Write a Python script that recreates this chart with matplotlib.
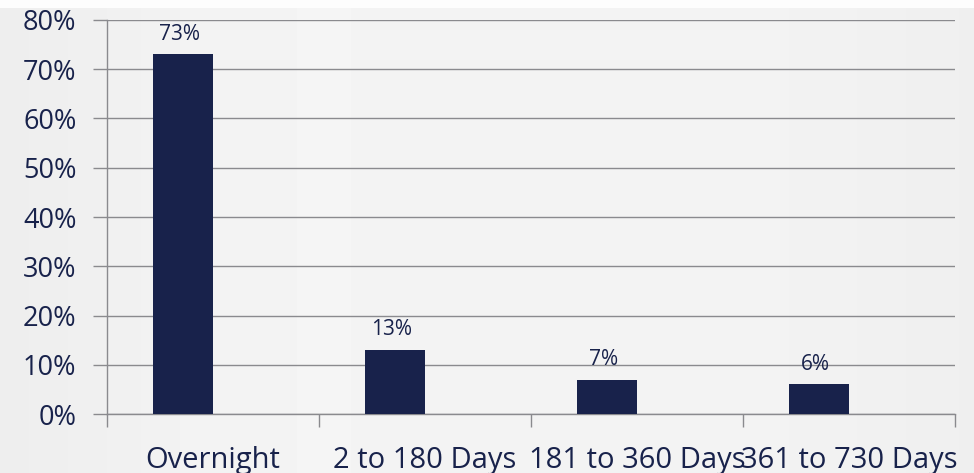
import matplotlib
matplotlib.use("Agg")
import matplotlib.pyplot as plt
import numpy as np
from matplotlib.ticker import FuncFormatter, FixedLocator

categories = ["Overnight", "2 to 180 Days", "181 to 360 Days", "361 to 730 Days"]
values = [73, 13, 7, 6]
labels = ["73%", "13%", "7%", "6%"]

navy = "#18224b"
grid = "#8a8a8e"

plt.rcParams['font.family'] = ['Open Sans', 'DejaVu Sans']

fig = plt.figure(figsize=(9.74, 4.73), dpi=100)
fig.patch.set_facecolor("#ececec")
# subtle background gradient
bg = fig.add_axes([0, 0, 1, 1], zorder=-10)
xx = np.linspace(0, 1, 200)
yy = np.linspace(0, 1, 100)
X, Y = np.meshgrid(xx, yy)
Z = 0.925 + 0.03 * np.exp(-((X - 0.3) ** 2) / 0.06) + 0.025 * np.exp(-((X - 0.75) ** 2) / 0.08)
Z[:2, :] = 0.99
bg.imshow(Z, cmap="gray", vmin=0, vmax=1, aspect="auto", extent=[0, 1, 0, 1])
bg.axis("off")

ax = fig.add_axes([107/974, 1 - 414/473, (955 - 107)/974, (414 - 20)/473])
ax.set_facecolor("none")

x = np.arange(len(categories))
offset = -0.14
bars = ax.bar(x + offset, values, width=0.283, color=navy, zorder=3)
for xi, v, lab in zip(x, values, labels):
    ax.text(xi + offset - 0.02, v + 2.0, lab, ha="center", va="bottom",
            fontsize=15, color=navy, zorder=4)

ax.set_xlim(-0.5, len(categories) - 0.5)
ax.set_ylim(0, 80)
ax.yaxis.set_major_locator(FixedLocator(np.arange(0, 81, 10)))
ax.yaxis.set_major_formatter(FuncFormatter(lambda v, p: f"{int(v)}%"))
ax.yaxis.grid(True, color=grid, linewidth=1, zorder=0)
ax.set_axisbelow(True)

ax.set_xticks(np.arange(-0.5, len(categories), 1.0))
ax.set_xticklabels([])
ax.set_xticks(x, minor=True)
ax.set_xticklabels(categories, minor=True)
ax.tick_params(axis="x", which="major", length=9, color=grid, width=1, direction="out")
ax.tick_params(axis="x", which="minor", length=0, pad=23, labelsize=21, labelcolor=navy)
ax.tick_params(axis="y", length=10, color=grid, width=1, labelsize=19.5, labelcolor=navy, pad=12)

for s in ["top", "right"]:
    ax.spines[s].set_visible(False)
for s in ["left", "bottom"]:
    ax.spines[s].set_color(grid)
    ax.spines[s].set_linewidth(1)

fig.savefig("out.png", dpi=100, facecolor=fig.get_facecolor())
